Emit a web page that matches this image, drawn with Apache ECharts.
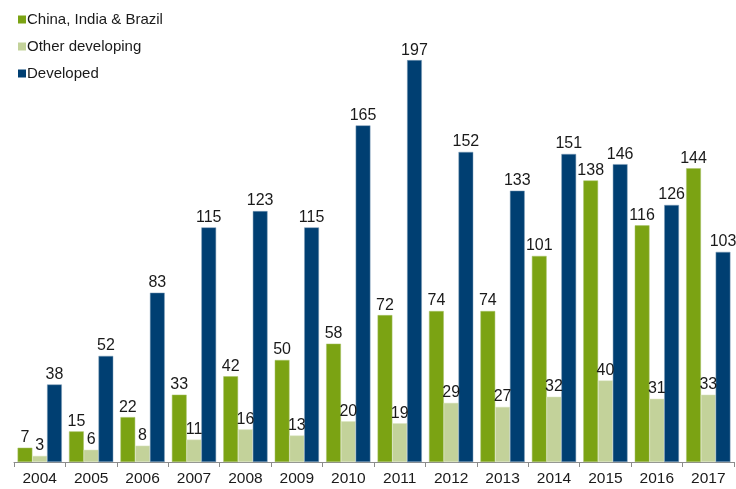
<!DOCTYPE html>
<html>
<head>
<meta charset="utf-8">
<script src="https://cdn.jsdelivr.net/npm/echarts@6/dist/echarts.min.js"></script>
<style>
  html, body { margin: 0; padding: 0; background: #fff; }
  #chart { width: 736px; height: 489px; }
</style>
</head>
<body>
<div id="chart"></div>
<script>
// 年份
const years = ['2004', '2005', '2006', '2007', '2008', '2009', '2010', '2011', '2012', '2013', '2014', '2015', '2016', '2017'];
// 各组数据
const chinaIndiaBrazil = [7, 15, 22, 33, 42, 50, 58, 72, 74, 74, 101, 138, 116, 144];
const otherDeveloping = [3, 6, 8, 11, 16, 13, 20, 19, 29, 27, 32, 40, 31, 33];
const developed = [38, 52, 83, 115, 123, 115, 165, 197, 152, 133, 151, 146, 126, 103];

const chart = echarts.init(document.getElementById('chart'));

const font = 'Liberation Sans, Arial, sans-serif';
const labelStyle = {
  show: true,
  position: 'top',
  distance: 2,
  color: '#1a1a1a',
  fontSize: 16,
  fontFamily: font
};

const option = {
  animation: false,
  legend: {
    orient: 'vertical',
    left: 13,
    top: 7,
    itemWidth: 8,
    itemHeight: 8,
    itemGap: 12,
    icon: 'rect',
    itemStyle: { borderWidth: 0 },
    textStyle: {
      fontSize: 15,
      color: '#1a1a1a',
      fontFamily: font,
      padding: [0, 0, 0, -4]
    }
  },
  grid: {
    left: 14,
    right: 2,
    top: 54,
    bottom: 27,
    containLabel: false
  },
  xAxis: {
    type: 'category',
    data: years,
    axisLine: { lineStyle: { color: '#8c8c8c', width: 1 } },
    axisTick: { show: true, length: 5, lineStyle: { color: '#8c8c8c' } },
    axisLabel: {
      color: '#1a1a1a',
      fontSize: 15.5,
      margin: 9,
      fontFamily: font
    }
  },
  yAxis: {
    type: 'value',
    min: 0,
    max: 200,
    show: false,
    splitLine: { show: false }
  },
  series: [
    {
      name: 'China, India & Brazil',
      type: 'bar',
      data: chinaIndiaBrazil,
      barGap: '0%',
      barCategoryGap: '14%',
      itemStyle: { color: '#7ba313', borderColor: '#a9c36a', borderWidth: 0.5 },
      label: labelStyle
    },
    {
      name: 'Other developing',
      type: 'bar',
      data: otherDeveloping,
      itemStyle: { color: '#c3d29a', borderColor: '#dde6c4', borderWidth: 0.5 },
      label: labelStyle
    },
    {
      name: 'Developed',
      type: 'bar',
      data: developed,
      itemStyle: { color: '#003f72', borderColor: '#7f9fb9', borderWidth: 0.5 },
      label: labelStyle
    }
  ]
};

chart.setOption(option);
</script>
</body>
</html>
